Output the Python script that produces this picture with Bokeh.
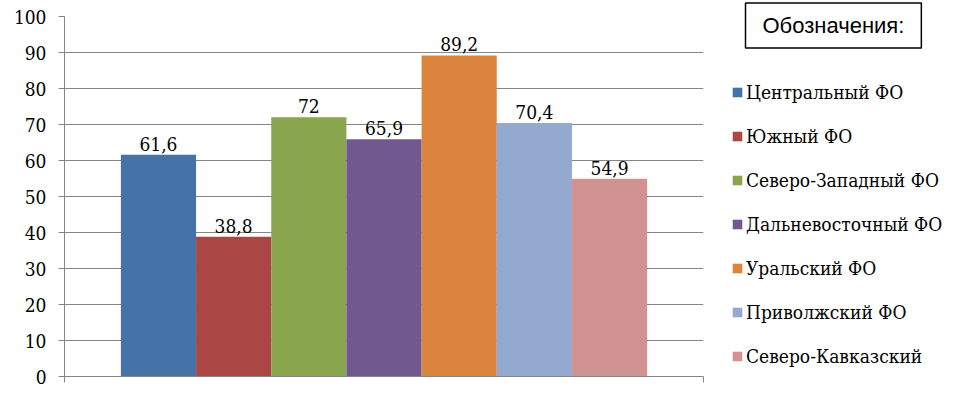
from bokeh.plotting import figure
from bokeh.models import (ColumnDataSource, Range1d, FixedTicker, Legend, LegendItem,
                          Label)
from bokeh.layouts import row, column
from bokeh.core.properties import value
from bokeh.embed import file_html
from bokeh.resources import INLINE

# data
regions = ["Центральный ФО", "Южный ФО", "Северо-Западный ФО", "Дальневосточный ФО",
           "Уральский ФО", "Приволжский ФО", "Северо-Кавказский"]
values = [61.6, 38.8, 72, 65.9, 89.2, 70.4, 54.9]
colors = ["#4572A7", "#AA4643", "#89A54E", "#71588F", "#DB843D", "#93A9CF", "#D19392"]
y_ticks = [0, 10, 20, 30, 40, 50, 60, 70, 80, 90, 100]
legend_title = "Обозначения:"

SERIF = "DejaVu Serif Condensed"
SANS = "'Liberation Sans'"
GRAY = "#868686"
H = 414

pad = 0.75
n = len(regions)
xs = [pad + 0.5 + i for i in range(n)]
labels = [str(v).replace(".", ",") for v in values]

# main chart
p = figure(width=706, height=H, output_backend="svg", toolbar_location=None,
           x_range=Range1d(0, n + 2 * pad), y_range=Range1d(0, 100),
           min_border_left=64, min_border_right=3, min_border_top=16,
           min_border_bottom=H - 376)
p.outline_line_color = None

for i in range(n):
    p.vbar(x=[xs[i]], top=[values[i]], width=1.0, bottom=0,
           fill_color=colors[i], line_color=None)

src_all = ColumnDataSource(data={"x": xs, "top": values, "lab": labels})
p.text(x="x", y="top", text="lab", source=src_all, text_align="center",
       text_baseline="bottom", y_offset=-4, text_font=value(SERIF),
       text_font_size="19px", text_color="black")

p.xaxis.ticker = FixedTicker(ticks=[0, n + 2 * pad])
p.xaxis.major_label_text_color = None
p.xaxis.major_tick_out = 6
p.xaxis.major_tick_in = 0
p.xaxis.minor_tick_line_color = None
p.xaxis.axis_line_color = GRAY
p.xaxis.major_tick_line_color = GRAY

p.yaxis.ticker = FixedTicker(ticks=y_ticks)
p.yaxis.major_tick_out = 6
p.yaxis.major_tick_in = 0
p.yaxis.minor_tick_line_color = None
p.yaxis.axis_line_color = GRAY
p.yaxis.major_tick_line_color = GRAY
p.yaxis.major_label_standoff = 12
p.yaxis.major_label_text_font = SERIF
p.yaxis.major_label_text_font_size = "19px"
p.yaxis.major_label_text_color = "black"

p.xgrid.grid_line_color = None
p.ygrid.grid_line_color = GRAY
p.ygrid.ticker = FixedTicker(ticks=y_ticks)

# legend panel (its own small figure so nothing gets clipped)
lg = figure(width=260, height=H, output_backend="svg", toolbar_location=None,
            x_range=Range1d(0, 1), y_range=Range1d(0, 1),
            min_border=0, x_axis_location=None, y_axis_location=None)
lg.outline_line_color = None
lg.grid.grid_line_color = None

items = []
for i in range(n):
    # zero-size dummy bar, only there to give the legend its swatch colour
    r = lg.vbar(x=[0], top=[0], bottom=0, width=0, fill_color=colors[i], line_color=None)
    items.append(LegendItem(label=regions[i], renderers=[r]))

legend = Legend(items=items, location=(25, H - 367), orientation="vertical",
                glyph_width=12, glyph_height=12, label_height=22, spacing=22,
                label_standoff=3, padding=0, margin=0, border_line_color=None,
                background_fill_alpha=0, label_text_font=SERIF,
                label_text_font_size="19px", label_text_color="black")
lg.add_layout(legend, "center")

title = Label(x=39, y=H - 25, x_units="screen", y_units="screen", text=legend_title,
              text_baseline="middle", text_align="left",
              text_font=SANS, text_font_size="22px", text_color="black",
              border_line_color="black", border_line_width=1.5,
              background_fill_color="white",
              padding=dict(left=17, right=17, top=10, bottom=10))
lg.add_layout(title, "center")

layout = row(p, column(lg), spacing=0)
open("out.html", "w").write(file_html(layout, INLINE))
